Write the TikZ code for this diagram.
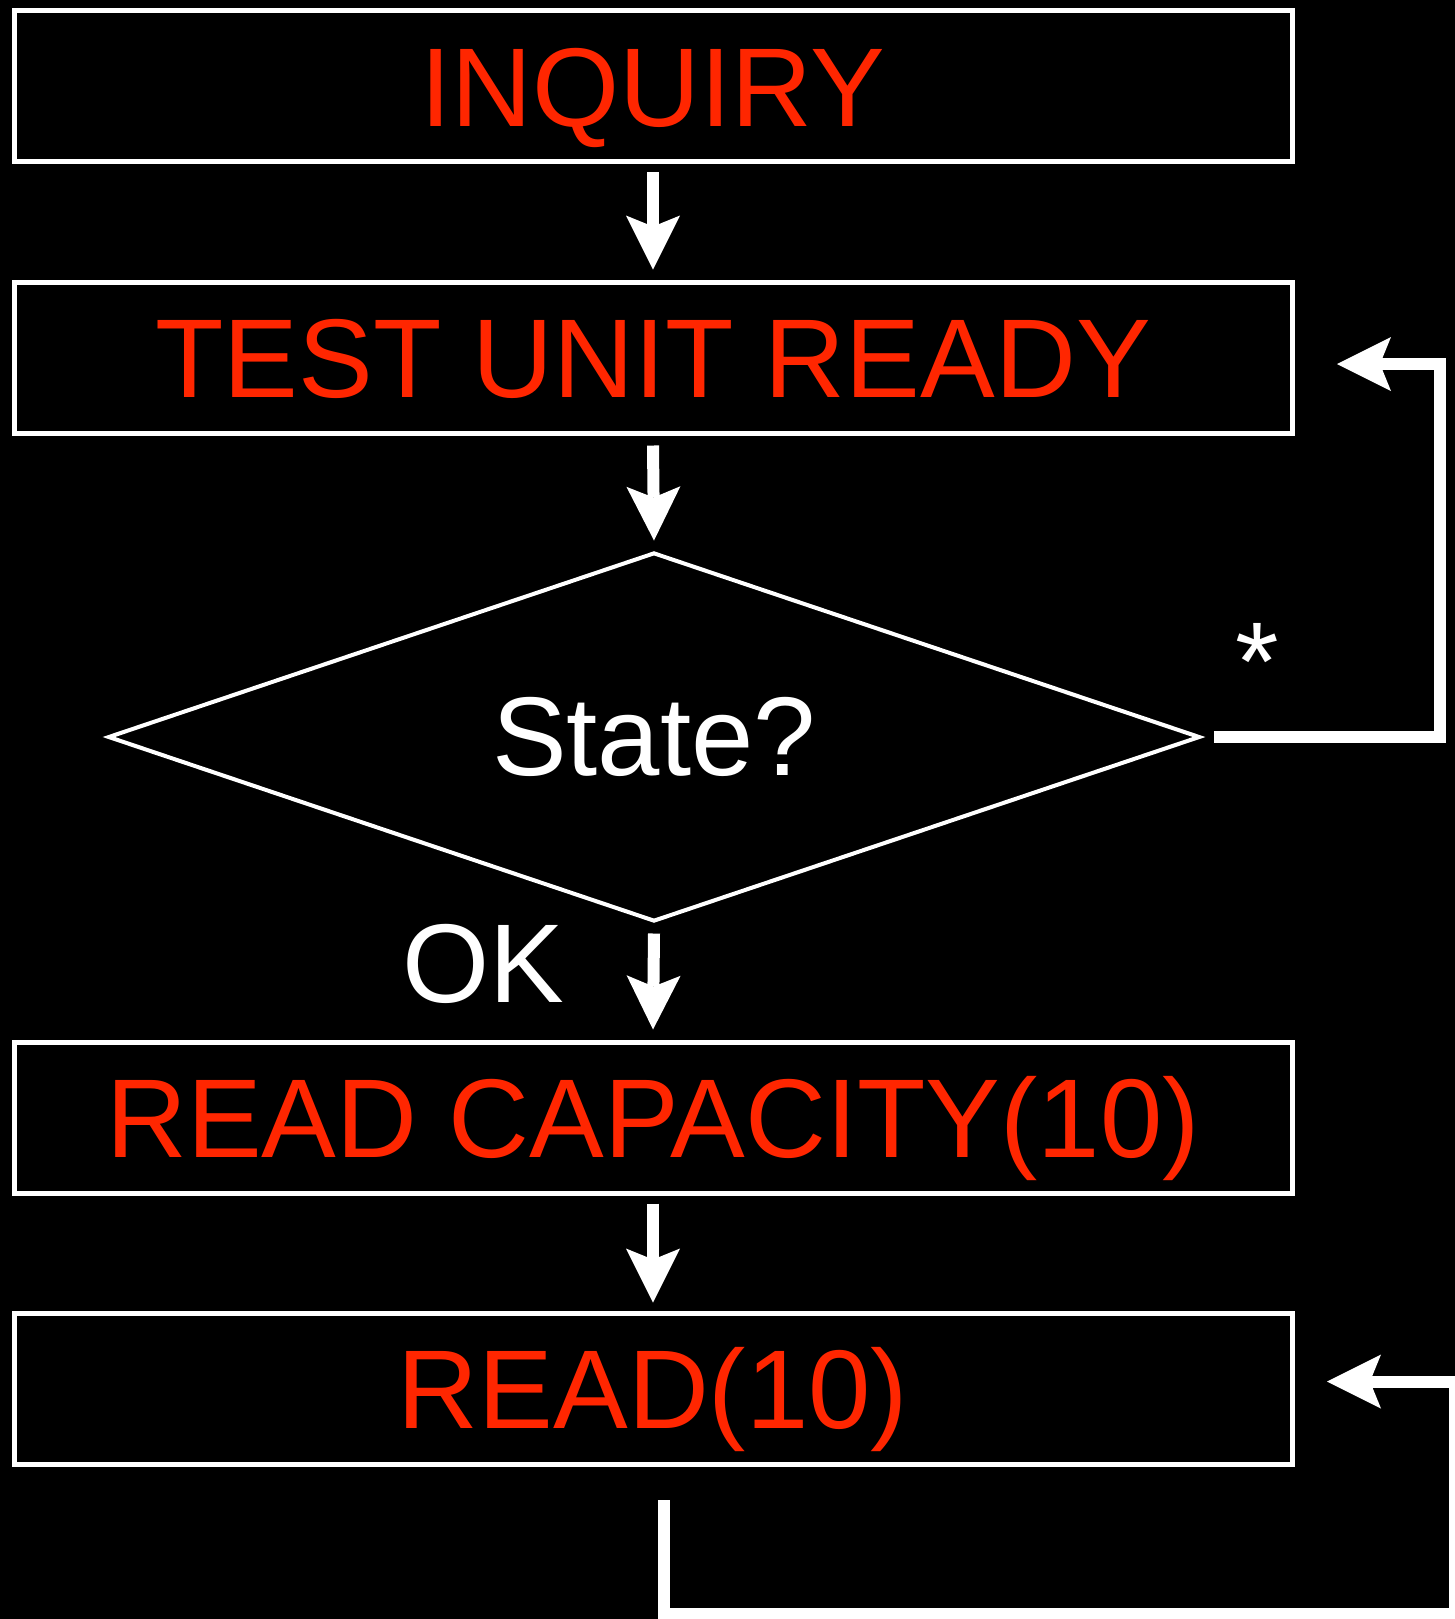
\documentclass[tikz,border=0pt]{standalone}
\usepackage{fontspec}
\setmainfont{Liberation Sans}
\usetikzlibrary{shapes.geometric,arrows.meta}
\definecolor{cmdred}{RGB}{255,38,0}
\tikzset{
  cmdbox/.style={draw=white, line width=2.5pt, minimum width=639pt, minimum height=75.5pt,
    inner sep=0pt, text height=40pt, text depth=0pt, text=cmdred,
    font=\fontsize{56pt}{60pt}\selectfont},
  decision/.style={diamond, aspect=2.96, draw=white, line width=2pt, minimum width=546pt,
    minimum height=184.5pt, inner sep=0pt, text=white, font=\fontsize{56pt}{60pt}\selectfont},
  lbl/.style={text=white, anchor=base, inner sep=0pt, font=\fontsize{56pt}{60pt}\selectfont},
  flow/.style={draw=white, line width=6pt, line join=miter,
    -{Stealth[length=27pt,width=27pt,inset=5.5pt,line width=0pt]}}
}
\begin{document}
\begin{tikzpicture}[x=0.5pt,y=-0.5pt]
\fill[black] (0,0) rectangle (1455,1619);
\useasboundingbox (0,0) rectangle (1455,1619);
% command boxes
\node[cmdbox] (inq) at (653,86) {INQUIRY};
\node[cmdbox] (tur) at (653,357.5) {TEST UNIT READY};
\node[decision] (state) at (654,737) {State?};
\node[cmdbox] (rcap) at (653,1117.5) {READ CAPACITY(10)};
\node[cmdbox] (rd) at (653,1388.5) {READ(10)};
% labels
\node[lbl] (ok) at (483,1002) {OK};
\node[lbl] (star) at (1257,700) {*};
% straight arrows
\draw[flow] ([yshift=-4pt]inq.south) -- ([yshift=5pt]tur.north);
\draw[flow] ([yshift=-5pt]tur.south) -- ([yshift=5pt]state.north);
\draw[flow] ([yshift=-5pt]state.south) -- ([yshift=5pt]rcap.north);
\draw[flow] ([yshift=-4pt]rcap.south) -- ([yshift=4pt]rd.north);
% loops back
\coordinate (turin) at ([shift={(42.5,6.5)}]tur.east);
\draw[flow] ([xshift=6pt]state.east) -- ++(226,0) |- (turin);
\coordinate (rdout) at ([shift={(11,33.5)}]rd.south);
\coordinate (rdin) at ([shift={(32.5,-7)}]rd.east);
\draw[flow] (rdout) -- ++(0,114) -- ++(791,0) |- (rdin);
\end{tikzpicture}
\end{document}
